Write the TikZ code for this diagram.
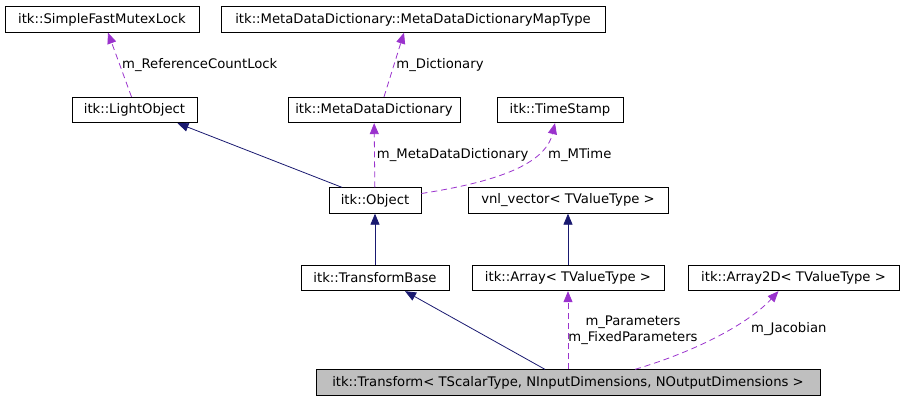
\documentclass[tikz,border=0pt]{standalone}
\usepackage{fontspec}
\setmainfont{DejaVu Sans}
\usepackage{tikz}
\usetikzlibrary{arrows.meta}
\definecolor{inhblue}{HTML}{191970}
\definecolor{usepurple}{HTML}{9A32CD}
\definecolor{boxgray}{HTML}{BFBFBF}

\begin{document}
\begin{tikzpicture}[x=1pt,y=-1pt,
  cls/.style={draw,line width=0.8pt,inner sep=0pt,minimum height=25.5pt,font=\fontsize{13.2}{15.8}\selectfont},
  lbl/.style={text=black,font=\fontsize{13.2}{15.8}\selectfont,inner sep=2pt},
  inh/.style={inhblue,line width=0.8pt,-{Triangle[length=11pt,width=9pt]}},
  use/.style={usepurple,line width=0.8pt,dash pattern=on 6pt off 4pt,-{Triangle[length=11pt,width=9pt]}}]
  \useasboundingbox (0,0) rectangle (904,400);
  \node[cls,minimum width=194pt] (mutex) at (102,19.5) {itk::SimpleFastMutexLock};
  \node[cls,minimum width=384pt] (maptype) at (413,19.5) {itk::MetaDataDictionary::MetaDataDictionaryMapType};
  \node[cls,minimum width=125pt] (lobj) at (134.5,110) {itk::LightObject};
  \node[cls,minimum width=172pt] (mdd) at (374,110) {itk::MetaDataDictionary};
  \node[cls,minimum width=126pt] (tstamp) at (560,110) {itk::TimeStamp};
  \node[cls,minimum width=92pt] (obj) at (375,200.5) {itk::Object};
  \node[cls,minimum width=200pt] (vnl) at (568,200.5) {vnl\_vector< TValueType >};
  \node[cls,minimum width=148pt] (tbase) at (375,278) {itk::TransformBase};
  \node[cls,minimum width=192pt] (arr) at (568,278) {itk::Array< TValueType >};
  \node[cls,minimum width=211pt] (arr2d) at (793.5,278) {itk::Array2D< TValueType >};
  \node[cls,fill=boxgray,minimum width=504pt] (xform) at (568,382.5) {itk::Transform< TScalarType, NInputDimensions, NOutputDimensions >};

  \draw[use] ([xshift=-3pt]lobj.north) -- ([xshift=6pt]mutex.south) node[lbl,midway,right] {m\_ReferenceCountLock};
  \draw[use] ([xshift=10pt]mdd.north) -- ([xshift=-9pt]maptype.south) node[lbl,midway,right] {m\_Dictionary};
  \draw[inh] ([xshift=-33pt]obj.north) -- ([xshift=43pt]lobj.south);
  \draw[use] (obj) -- (mdd) node[lbl,midway,right] {m\_MetaDataDictionary};
  \draw[use] ([yshift=7pt]obj.east) .. controls (495,182) and (545,165) .. ([xshift=-5pt]tstamp.south);
  \node[lbl,anchor=west] (mtime) at (546,155) {m\_MTime};
  \draw[inh] (tbase) -- (obj);
  \draw[inh] (arr) -- (vnl);
  \draw[inh] ([xshift=-23pt]xform.north) -- ([xshift=30pt]tbase.south);
  \draw[use] (xform) -- (arr);
  \node[lbl,align=center] (params) at (633,330) {m\_Parameters\\m\_FixedParameters};
  \draw[use] ([xshift=67pt]xform.north) .. controls (700,350) and (750,322) .. ([xshift=-15pt]arr2d.south);
  \node[lbl,anchor=west] (jacob) at (749,329) {m\_Jacobian};
\end{tikzpicture}
\end{document}
